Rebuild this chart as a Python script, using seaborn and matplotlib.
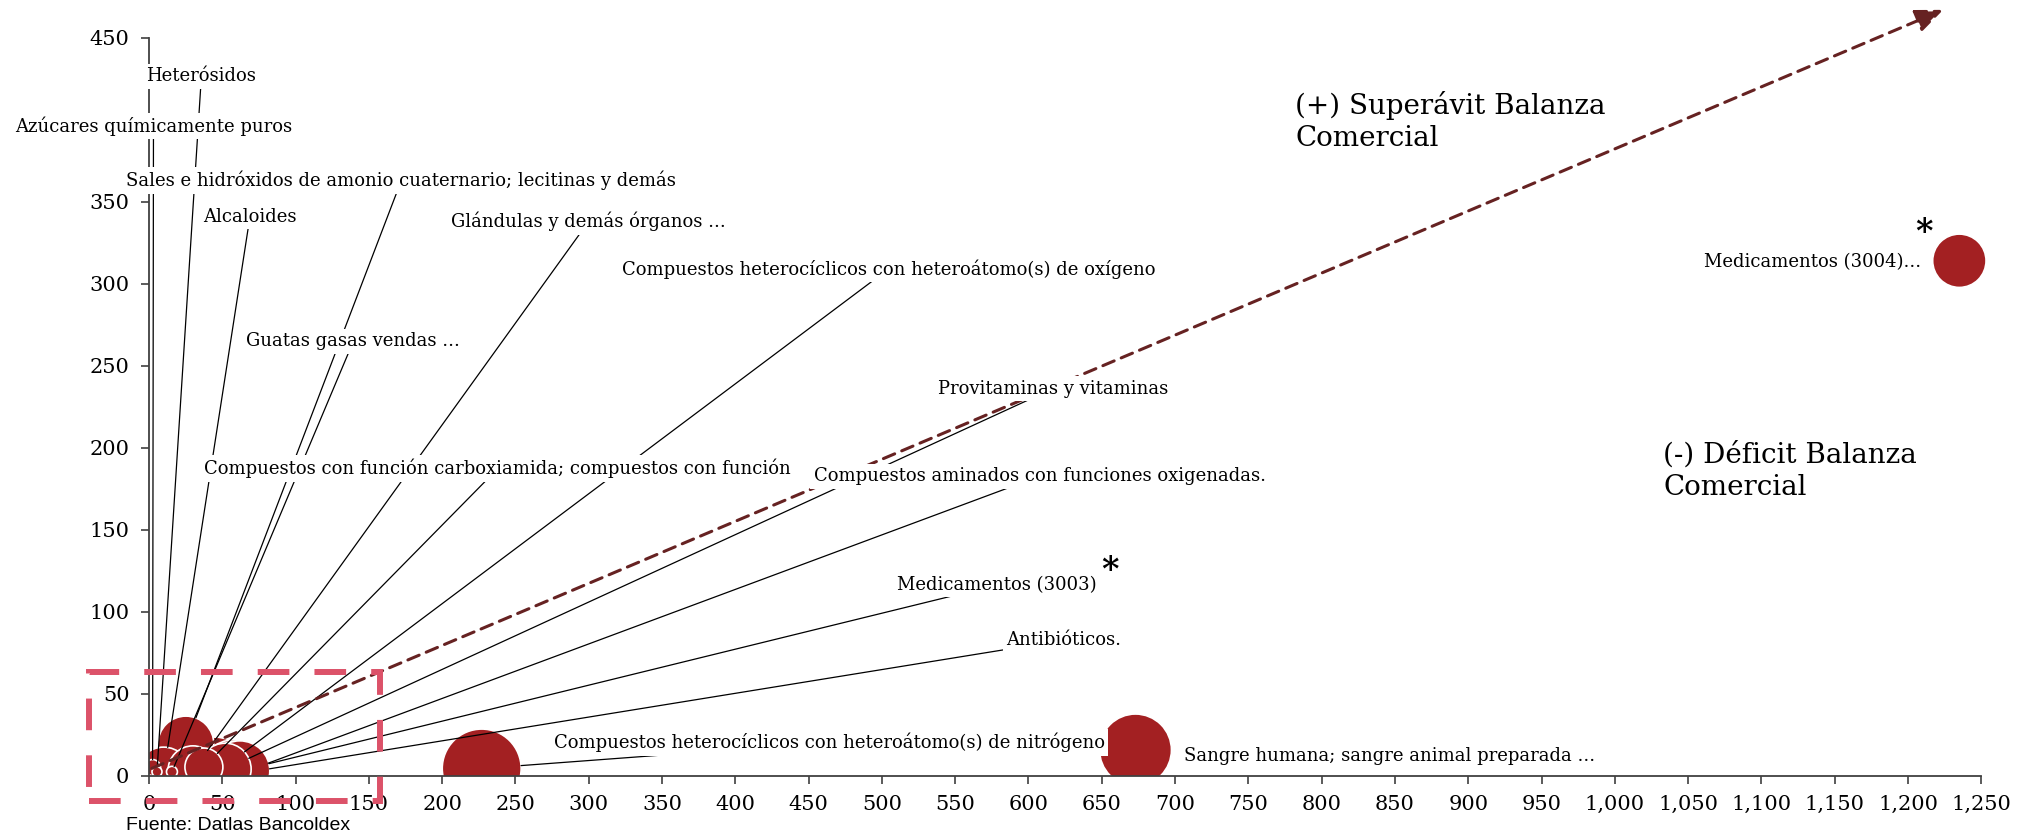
import matplotlib
matplotlib.use("Agg")
import matplotlib.pyplot as plt
from matplotlib.patches import Rectangle
import numpy as np
import pandas as pd
import seaborn as sns

# datos (x: importaciones, y: exportaciones, tamano de burbuja)
productos = [
    "Heterósidos",
    "Azúcares químicamente puros",
    "Sales e hidróxidos de amonio cuaternario; lecitinas y demás",
    "Alcaloides",
    "Glándulas y demás órganos ...",
    "Compuestos heterocíclicos con heteroátomo(s) de oxígeno",
    "Guatas gasas vendas ...",
    "Provitaminas y vitaminas",
    "Compuestos con función carboxiamida; compuestos con función",
    "Compuestos aminados con funciones oxigenadas.",
    "Medicamentos (3003)",
    "Antibióticos.",
    "Compuestos heterocíclicos con heteroátomo(s) de nitrógeno",
    "Sangre humana; sangre animal preparada ...",
    "Medicamentos (3004)...",
]
importaciones = [5.5, 2.5, 25.2, 10, 30, 45, 15.7, 52, 37.5, 58.3, 62, 60, 227, 673, 1235]
exportaciones = [2.4, 5, 19.3, 1, 3, 1, 2.4, 4, 5.3, 0, 3, 1, 4.4, 15.7, 314]
tamano = [25, 64, 784, 729, 625, 1369, 30, 676, 361, 1296, 900, 1089, 1560, 1296, 713]

# posicion de las etiquetas (centro) y si llevan linea guia
etiqueta_x = [35.8, 3.1, 172.2, 68.9, 300, 504.5, 139.5, 616.6, 238, 607.8, 578.4, 624, 464, 846, 1135]
etiqueta_y = [426.6, 396.2, 363, 340.8, 338, 309, 265, 236, 187.3, 182.7, 116.3, 82.7, 20.2, 12.3, 313.4]
con_guia = [True] * 13 + [False, False]
asteriscos = {"Medicamentos (3003)": (655.5, 125), "Medicamentos (3004)...": (1211, 331)}

x_ticks = list(range(0, 1251, 50))
x_tick_labels = [f"{v:,}" for v in x_ticks]
y_ticks = list(range(0, 451, 50))
# el 400 queda tapado por la etiqueta de azucares en el original
y_tick_labels = ["0", "50", "100", "150", "200", "250", "300", "350", "", "450"]

ROJO = "#A32022"
GRANATE = "#662222"
ROSA = "#DC5269"
escala = 2.07  # px^2 -> pt^2

sns.set_theme(style="white")
plt.rcParams["font.family"] = ["DejaVu Serif", "DejaVu Sans"]
plt.rcParams["text.color"] = "black"

fig = plt.figure(figsize=(20.18, 8.31), dpi=100)
ax = fig.add_axes([0.0738, 0.0665, 0.9153, 0.8881])

df = pd.DataFrame({"producto": productos, "imp": importaciones,
                   "exp": exportaciones, "tam": tamano})
orden = df.sort_values("tam", ascending=False)
sns.scatterplot(data=orden, x="imp", y="exp", s=orden["tam"].to_numpy() * escala,
                color=ROJO, edgecolor="white", linewidth=1.2, alpha=1,
                legend=False, ax=ax, zorder=2)

ax.set_xlim(0, 1260)
ax.set_ylim(0, 450)
ax.set_xlabel("")
ax.set_ylabel("")
ax.set_xticks(x_ticks, x_tick_labels)
ax.set_yticks(y_ticks, y_tick_labels)
ax.tick_params(bottom=True, left=True, direction="out", length=6, width=1.2,
               color="#404040", labelcolor="black", labelsize=15)
ax.tick_params(axis="x", pad=8)
ax.tick_params(axis="y", pad=8)
sns.despine(ax=ax)
for lado in ["left", "bottom"]:
    ax.spines[lado].set_color("#404040")
    ax.spines[lado].set_linewidth(1.3)
ax.spines["bottom"].set_bounds(0, 1250)
ax.spines["left"].set_bounds(0, 450)

# etiquetas y lineas guia
for i, nombre in enumerate(productos):
    ax.text(etiqueta_x[i], etiqueta_y[i], nombre, ha="center", va="center",
            fontsize=13, zorder=5,
            bbox=dict(fc="white", ec="none", pad=2.5))
    if con_guia[i]:
        r_pt = np.sqrt(tamano[i] * escala) / 2
        ax.annotate("", xy=(importaciones[i], exportaciones[i]),
                    xytext=(etiqueta_x[i], etiqueta_y[i]),
                    arrowprops=dict(arrowstyle="-", color="black", lw=0.9,
                                    shrinkA=0, shrinkB=r_pt),
                    zorder=3)
for nombre, (ax_x, ax_y) in asteriscos.items():
    ax.text(ax_x, ax_y, "*", ha="center", va="center", fontsize=24,
            fontweight="bold", zorder=5)

# flecha de equilibrio comercial
inicio = (2, 4.5)
fin = (1224, 467)
ax.annotate("", xy=fin, xytext=inicio, annotation_clip=False,
            arrowprops=dict(arrowstyle="-|>,head_length=1.2,head_width=0.5",
                            color=GRANATE, lw=2.2, linestyle=(0, (4, 2.5)),
                            shrinkA=0, shrinkB=0, mutation_scale=14),
            zorder=4)

ax.text(782, 399, "(+) Superávit Balanza\nComercial", ha="left", va="center",
        fontsize=20, linespacing=1.25)
ax.text(1033, 186, "(-) Déficit Balanza\nComercial", ha="left", va="center",
        fontsize=20, linespacing=1.25)

# recuadro de zoom
ax.add_patch(Rectangle((-41, -15.2), 198.6, 78.6, fill=False, ec=ROSA, lw=4.3,
                       ls=(0, (5.3, 4.2)), clip_on=False, zorder=6))

fig.text(126 / 2018, 1 - 826 / 831, "Fuente: Datlas Bancoldex", ha="left",
         va="center", fontsize=14, family=["Liberation Sans", "DejaVu Sans"])

fig.savefig("out.png", dpi=100, facecolor="white")
